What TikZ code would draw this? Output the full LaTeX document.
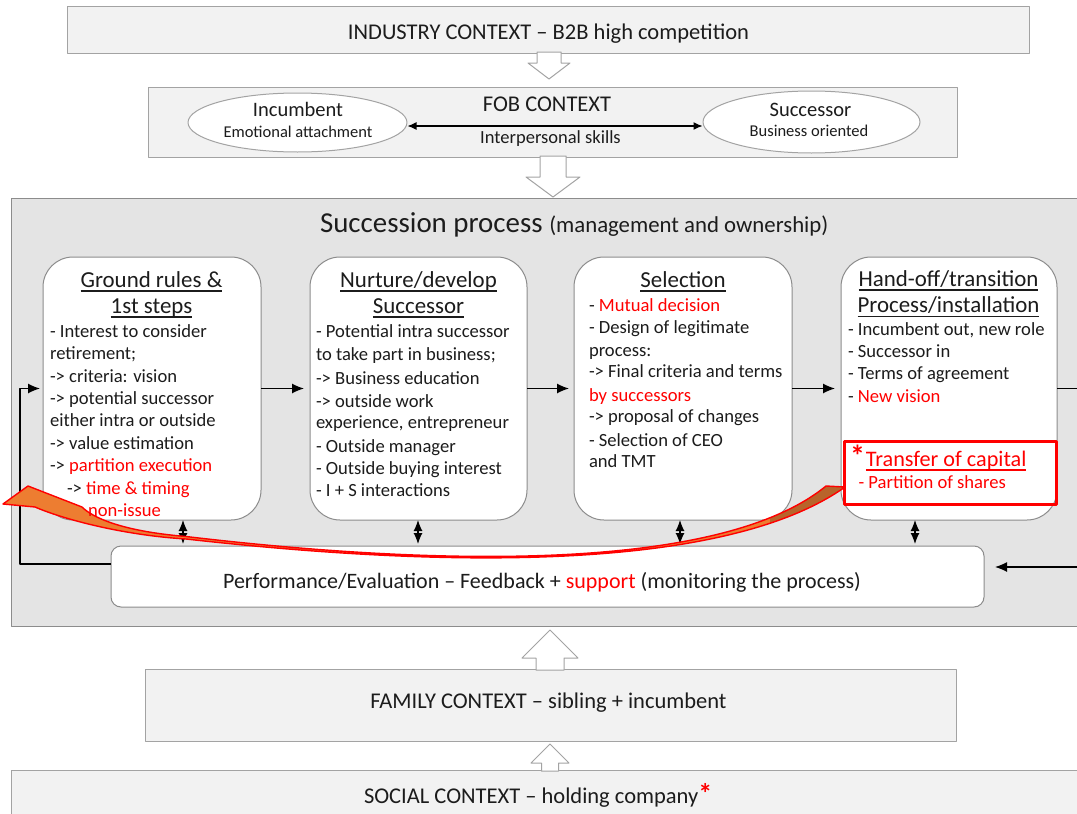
\documentclass[tikz,border=0pt]{standalone}
\usepackage{fontspec}
\setmainfont{Carlito}
\usetikzlibrary{arrows.meta,shapes.geometric}

\definecolor{ctxfill}{HTML}{F2F2F2}
\definecolor{ctxline}{HTML}{A3A3A3}
\definecolor{procfill}{HTML}{E4E4E4}
\definecolor{boxline}{HTML}{8C8C8C}
\definecolor{hot}{HTML}{FF0000}
\definecolor{orng}{HTML}{ED7D31}
\definecolor{brwn}{HTML}{B8642B}
\definecolor{ink}{HTML}{1C1C1C}

\newcommand\fsz[1]{\fontsize{#1}{#1}\selectfont}
\newcommand\redtxt[1]{\textcolor{hot}{#1}}
\newcommand\hdul[1]{\setbox0=\hbox{#1}\rlap{\rule[-0.19em]{\wd0}{0.07em}}\box0}

% hollow block arrow: centre x, foot y, head-base y, tip y, half shaft, half head
\newcommand\blockarrow[6]{%
  \filldraw[fill=white, draw=ctxline, line width=1pt]
    ({#1-#5},#2) -- ({#1-#5},#3) -- ({#1-#6},#3) -- (#1,#4)
    -- ({#1+#6},#3) -- ({#1+#5},#3) -- ({#1+#5},#2) -- cycle;}

\begin{document}
\begin{tikzpicture}[x=1pt, y=-1pt, line join=round,
  txt/.style={inner sep=0pt, outer sep=0pt, text=ink},
  body/.style={txt, anchor=base west, font={\fsz{18.6}}},
  hdr/.style={txt, anchor=base, font={\fsz{22.9}}},
  ctxbox/.style={draw=ctxline, fill=ctxfill, line width=1pt, inner sep=0pt, outer sep=0pt, anchor=north west},
  pbox/.style={draw=boxline, fill=white, line width=1pt, rounded corners=30pt, inner sep=0pt, outer sep=0pt, anchor=north west},
  conn/.style={draw=black, line width=1.2pt, -{Latex[length=12pt,width=10pt]}},
  link/.style={line width=1.2pt, {Latex[length=11pt,width=9pt]}-{Latex[length=11pt,width=9pt]}},
]
\useasboundingbox (0,0) rectangle (1077,814);
\clip (0,0) rectangle (1077,814);

% context layers
\node[ctxbox, minimum width=962, minimum height=47] (industry) at (67,6) {};
\node[ctxbox, minimum width=809, minimum height=70] (fob) at (148,87) {};
\node[ctxbox, fill=procfill, draw=boxline, minimum width=1090, minimum height=428] (proc) at (11,198) {};
\node[ctxbox, minimum width=811, minimum height=72] (family) at (145,669) {};
\node[ctxbox, minimum width=1090, minimum height=60] (social) at (11,770) {};

% hollow arrows between the layers
\blockarrow{549}{52}{63}{79}{12}{21}
\blockarrow{553}{156}{177}{197}{13}{27}
\blockarrow{550}{670}{658}{630}{14}{28}
\blockarrow{550}{771}{763}{744}{8.5}{19}

% FOB context
\node[ellipse, draw=ctxline, fill=white, line width=1pt, minimum width=219, minimum height=59, inner sep=0pt] (inc) at (297.5,122.5) {};
\node[ellipse, draw=ctxline, fill=white, line width=1pt, minimum width=217, minimum height=62, inner sep=0pt] (suc) at (811.5,122) {};
\coordinate (fobrow) at (0,126);
\draw[line width=1.2pt, {Latex[length=9pt,width=8pt]}-{Latex[length=9pt,width=8pt]}] (inc.east |- fobrow) -- (suc.west |- fobrow);

% process steps
\node[pbox, minimum width=218, minimum height=263] (box1) at (43,257) {};
\node[pbox, minimum width=217, minimum height=263] (box2) at (310,257) {};
\node[pbox, minimum width=218, minimum height=263] (box3) at (574,257) {};
\node[pbox, minimum width=216, minimum height=263] (box4) at (841,257) {};
\node[pbox, rounded corners=10pt, minimum width=873, minimum height=61] (perf) at (111,546) {};

% flow between the steps
\draw[conn, shorten >=6pt] (box1.east) -- (box2.west);
\draw[conn, shorten >=5pt] (box2.east) -- (box3.west);
\draw[conn, shorten >=6pt] (box3.east) -- (box4.west);
\coordinate (loopc) at (20,564);
\draw[conn, shorten >=3pt] (perf.west |- loopc) -- (loopc) |- (box1.west);
\coordinate (outA) at (1090,388.5);
\draw[line width=1.2pt] (box4.east) -- (outA);
\coordinate (outB) at (1090,567);
\draw[conn, shorten >=11pt] (outB) -- (perf.east |- outB);
\foreach \x/\b [count=\i] in {183/box1,418/box2,680/box3,915/box4}{
  \coordinate (lk\i) at (\x,0);
  \draw[link, shorten >=2pt] (\b.south -| lk\i) -- (perf.north -| lk\i);
}

% texts of the context layers
\node[txt, anchor=base, font={\fsz{22.5}}] (industrytxt) at (548.5,39.8) {INDUSTRY CONTEXT – B2B high competition};
\node[txt, anchor=base, font={\fsz{22.5}}] (fobtxt) at (547,111.8) {FOB CONTEXT};
\node[txt, anchor=base, font={\fsz{18.5}}] (skills) at (550.5,143.2) {Interpersonal skills};
\node[txt, anchor=base, font={\fsz{20.5}}] (inctxt) at (298,116.9) {Incumbent};
\node[txt, anchor=base, font={\fsz{16.5}}] (incsub) at (298,137.8) {Emotional attachment};
\node[txt, anchor=base, font={\fsz{20.5}}] (suctxt) at (810.5,116.9) {Successor};
\node[txt, anchor=base, font={\fsz{16.5}}] (sucsub) at (809,136.2) {Business oriented};
\node[txt, anchor=base west] (title) at (320,232.4) {\fsz{28.9}Succession process \fsz{22.8}(management and ownership)};
\node[txt, anchor=base, font={\fsz{22}}] (perftxt) at (542,588.3) {Performance/Evaluation – Feedback + \redtxt{support} (monitoring the process)};
\node[txt, anchor=base, font={\fsz{22.5}}] (famtxt) at (548.5,708.8) {FAMILY CONTEXT – sibling + incumbent};
\node[txt, anchor=base west, font={\fsz{22.5}}] (soctxt) at (364,803.8) {SOCIAL CONTEXT – holding company\textcolor{hot}{\fsz{28}\bfseries *}};

% step headings
\node[hdr] (h1a) at (151.5,287.6) {\hdul{Ground rules \&}};
\node[hdr] (h1b) at (151.5,313.6) {\hdul{1st steps}};
\node[hdr] (h2a) at (418.5,287.6) {\hdul{Nurture/develop}};
\node[hdr] (h2b) at (418.5,313.6) {\hdul{Successor}};
\node[hdr] (h3a) at (683,287.6) {\hdul{Selection}};
\node[hdr] (h4a) at (948.5,286.2) {\hdul{Hand-off/transition}};
\node[hdr] (h4b) at (948.5,312.9) {\hdul{Process/installation}};

% step contents
\foreach \y/\t [count=\i] in {337.3/{- Interest to consider}, 359.7/{retirement;}, 382.1/{-> criteria: vision}, 404.5/{-> potential successor}, 426.9/{either intra or outside}, 449.3/{-> value estimation}, 471.7/{-> \redtxt{partition execution}}}
  \node[body] (ga\i) at (50,\y) {\t};
\node[body] (ga8) at (67,494.1) {-> \redtxt{time \& timing}};

\foreach \y/\t [count=\i] in {337.3/{- Potential intra successor}, 360.6/{to take part in business;}, 384.6/{-> Business education}, 407.3/{-> outside work}, 428.9/{experience, entrepreneur}, 452.9/{- Outside manager}, 474.9/{- Outside buying interest}, 496.3/{- I + S interactions}}
  \node[body] (gb\i) at (316,\y) {\t};

\foreach \y/\t [count=\i] in {311.3/{- \redtxt{Mutual decision}}, 333.3/{- Design of legitimate}, 356.3/{process:}, 377.9/{-> Final criteria and terms}, 401.6/{\redtxt{by successors}}, 422.9/{-> proposal of changes}, 446.3/{- Selection of CEO}, 467.3/{and TMT}}
  \node[body] (gc\i) at (589,\y) {\t};

\foreach \y/\t [count=\i] in {335.6/{- Incumbent out, new role}, 357.9/{- Successor in}, 379.9/{- Terms of agreement}, 402.3/{- \redtxt{New vision}}}
  \node[body] (gd\i) at (848,\y) {\t};

% curved arrow from the capital transfer back to the start
\path[save path=\bendp] (3,504) -- (28,486) -- (82,507)
  .. controls (92,517) and (120,531) .. (186,536.5)
  .. controls (330,553.5) and (700,589) .. (826,486) -- (845,487)
  .. controls (700,590) and (330,555) .. (186,539)
  .. controls (120,535) and (60,518) .. (35,507) -- cycle;
\fill[orng, use path=\bendp];
\begin{scope}
  \clip (770,440) rectangle (860,540);
  \fill[brwn, use path=\bendp];
\end{scope}
\draw[hot, line width=1.4pt, use path=\bendp];
\node[body] (ga9) at (88,516.5) {\redtxt{non-issue}};

% capital transfer
\node[draw=hot, line width=3pt, minimum width=212, minimum height=63, inner sep=0pt, anchor=north west] (capital) at (842.5,439.5) {};
\node[txt, anchor=base west, text=hot] (captitle) at (850,466.7) {{\fsz{30}\bfseries *}\hspace{1pt}{\fsz{22.2}\hdul{Transfer of capital}}};
\node[body, text=hot] (capsub) at (858.5,488.6) {- Partition of shares};
\end{tikzpicture}
\end{document}
